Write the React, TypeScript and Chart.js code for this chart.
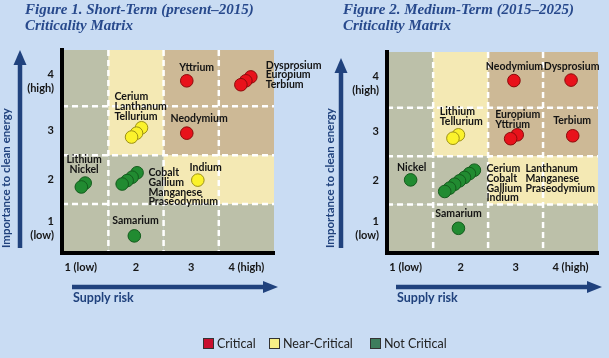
import React, { useEffect, useRef } from 'react';
import { Chart, registerables } from 'chart.js';

Chart.register(...registerables);

// ---------- data ----------
const xTickLabels = ['1 (low)', '2', '3', '4 (high)'];
const yTickLabels = [['1', '(low)'], ['2'], ['3'], ['4', '(high)']];
const tickValues = [1, 2, 3, 4];
const seriesNames = ['Critical', 'Near-Critical', 'Not Critical'];

const fig1Title = ['Figure 1. Short-Term (present\u20132015)', 'Criticality Matrix'];
const fig2Title = ['Figure 2. Medium-Term (2015\u20132025)', 'Criticality Matrix'];
const yAxisTitle = 'Importance to clean energy';
const xAxisTitle = 'Supply risk';

// zone of each cell: rows = importance 4 (top) .. 1 (bottom), cols = supply risk 1..4
// C = critical, Y = near-critical, N = not critical
const zonesShort = [
  ['N', 'Y', 'C', 'C'],
  ['N', 'Y', 'C', 'C'],
  ['N', 'N', 'Y', 'Y'],
  ['N', 'N', 'N', 'N'],
];
const zonesMedium = [
  ['N', 'Y', 'C', 'C'],
  ['N', 'Y', 'C', 'C'],
  ['N', 'N', 'Y', 'Y'],
  ['N', 'N', 'N', 'N'],
];

// Figure 1 (short term)
const shortCritical = [
  { x: 2.92, y: 4.02 }, // Yttrium
  { x: 4.08, y: 4.1 }, // Terbium
  { x: 3.99, y: 4.02 }, // Europium
  { x: 3.9, y: 3.94 }, // Dysprosium
  { x: 2.92, y: 2.95 }, // Neodymium
];
const shortNear = [
  { x: 2.1, y: 3.06 }, // Tellurium
  { x: 2.01, y: 2.95 }, // Lanthanum
  { x: 1.92, y: 2.87 }, // Cerium
  { x: 3.12, y: 1.99 }, // Indium
];
const shortNot = [
  { x: 1.08, y: 1.93 }, // Nickel
  { x: 1.01, y: 1.85 }, // Lithium
  { x: 2.02, y: 2.14 }, // Praseodymium
  { x: 1.93, y: 2.05 }, // Manganese
  { x: 1.84, y: 1.98 }, // Gallium
  { x: 1.75, y: 1.91 }, // Cobalt
  { x: 1.97, y: 0.85 }, // Samarium
];

// Figure 2 (medium term)
const mediumCritical = [
  { x: 2.97, y: 4.06 }, // Neodymium
  { x: 4.01, y: 4.07 }, // Dysprosium
  { x: 4.04, y: 2.92 }, // Terbium
  { x: 3.03, y: 2.94 }, // Yttrium
  { x: 2.91, y: 2.86 }, // Europium
];
const mediumNear = [
  { x: 1.96, y: 2.94 }, // Tellurium
  { x: 1.86, y: 2.87 }, // Lithium
];
const mediumNot = [
  { x: 1.09, y: 2.01 }, // Nickel
  { x: 2.25, y: 2.21 }, // Praseodymium
  { x: 2.16, y: 2.14 }, // Manganese
  { x: 2.07, y: 2.06 }, // Lanthanum
  { x: 1.98, y: 1.99 }, // Indium
  { x: 1.89, y: 1.92 }, // Gallium
  { x: 1.8, y: 1.84 }, // Cobalt
  { x: 1.71, y: 1.77 }, // Cerium
  { x: 1.96, y: 1.01 }, // Samarium
];

// element name annotations (anchored in data coordinates)
const shortNames = [
  { lines: ['Yttrium'], x: 3.1, y: 4.28, align: 'center' },
  { lines: ['Dysprosium', 'Europium', 'Terbium'], x: 4.35, y: 4.34, align: 'left' },
  { lines: ['Cerium', 'Lanthanum', 'Tellurium'], x: 1.61, y: 3.69, align: 'left' },
  { lines: ['Neodymium'], x: 2.625, y: 3.24, align: 'left' },
  { lines: ['Lithium', 'Nickel'], x: 1.06, y: 2.4, align: 'center' },
  { lines: ['Cobalt', 'Gallium', 'Manganese', 'Praseodymium'], x: 2.225, y: 2.14, align: 'left' },
  { lines: ['Indium'], x: 2.97, y: 2.24, align: 'left' },
  { lines: ['Samarium'], x: 1.57, y: 1.17, align: 'left' },
];
const mediumNames = [
  { lines: ['Neodymium'], x: 2.98, y: 4.34, align: 'center' },
  { lines: ['Dysprosium'], x: 4.02, y: 4.34, align: 'center' },
  { lines: ['Lithium', 'Tellurium'], x: 1.62, y: 3.41, align: 'left' },
  { lines: ['Europium', 'Yttrium'], x: 2.63, y: 3.35, align: 'left' },
  { lines: ['Terbium'], x: 4.03, y: 3.23, align: 'center' },
  { lines: ['Nickel'], x: 1.11, y: 2.26, align: 'center' },
  { lines: ['Cerium', 'Cobalt', 'Gallium', 'Indium'], x: 2.47, y: 2.24, align: 'left' },
  { lines: ['Lanthanum', 'Manganese', 'Praseodymium'], x: 3.18, y: 2.24, align: 'left' },
  { lines: ['Samarium'], x: 1.54, y: 1.31, align: 'left' },
];

// ---------- styles ----------
const BG = '#c9dcf3';
const ZONE_COLORS: Record<string, string> = { C: '#cdb996', Y: '#f4e9b4', N: '#bcc0a9' };
const DOT = [
  { fill: '#e8121b', border: '#8c0b0b' },
  { fill: '#fbf22c', border: '#9c9015' },
  { fill: '#218b31', border: '#145c1d' },
];
const LEGEND_COLORS = ['#c8102e', '#f6ef86', '#3d7d5d'];
const NAVY = '#20427d';
const TITLE_BLUE = '#27498c';
const X_MIN = 0.66;
const X_MAX = 4.5;
const Y_MIN = 0.5;
const Y_MAX = 4.65;
const BOUNDS = [1.5, 2.5, 3.5];

type Layout = {
  padding: { left: number; right: number; top: number; bottom: number };
  title: string[];
  titleX: number;
  yTitleX: number;
  yArrowX: number;
  yArrowTop: number;
  yArrowBottom: number;
  xArrowY: number;
  xArrowLeft: number;
  xArrowRight: number;
  xTitleX: number;
  xTitleY: number;
  legend: boolean;
};

function makeChart(
  canvas: HTMLCanvasElement,
  series: { x: number; y: number }[][],
  zones: string[][],
  names: { lines: string[]; x: number; y: number; align: string }[],
  L: Layout
) {
  const plugin = {
    id: 'matrixDecor',
    beforeDraw(chart: any) {
      const { ctx } = chart;
      const xs = chart.scales.x;
      const ys = chart.scales.y;
      const xb = [X_MIN, ...BOUNDS, X_MAX];
      const yb = [Y_MAX, ...BOUNDS.slice().reverse(), Y_MIN];
      ctx.save();
      for (let r = 0; r < 4; r++) {
        for (let c = 0; c < 4; c++) {
          const x0 = xs.getPixelForValue(xb[c]);
          const x1 = xs.getPixelForValue(xb[c + 1]);
          const y0 = ys.getPixelForValue(yb[r]);
          const y1 = ys.getPixelForValue(yb[r + 1]);
          ctx.fillStyle = ZONE_COLORS[zones[r][c]];
          ctx.fillRect(x0, y0, x1 - x0, y1 - y0);
        }
      }
      const ca = chart.chartArea;
      ctx.strokeStyle = '#ffffff';
      ctx.lineWidth = 2.5;
      ctx.setLineDash([6, 4]);
      BOUNDS.forEach((v) => {
        const px = xs.getPixelForValue(v);
        ctx.beginPath();
        ctx.moveTo(px, ca.top);
        ctx.lineTo(px, ca.bottom);
        ctx.stroke();
        const py = ys.getPixelForValue(v);
        ctx.beginPath();
        ctx.moveTo(ca.left, py);
        ctx.lineTo(ca.right, py);
        ctx.stroke();
      });
      ctx.restore();
    },
    afterDatasetsDraw(chart: any) {
      const { ctx } = chart;
      const xs = chart.scales.x;
      const ys = chart.scales.y;
      ctx.save();
      ctx.font = 'bold 10.5px Lato';
      ctx.fillStyle = '#141414';
      ctx.textBaseline = 'middle';
      names.forEach((n) => {
        ctx.textAlign = n.align as CanvasTextAlign;
        const px = xs.getPixelForValue(n.x);
        const py = ys.getPixelForValue(n.y);
        n.lines.forEach((line, i) => ctx.fillText(line, px, py + i * 9.7));
      });
      ctx.restore();
    },
    afterDraw(chart: any) {
      const { ctx } = chart;
      ctx.save();
      // figure title
      ctx.fillStyle = TITLE_BLUE;
      ctx.font = 'italic bold 15px "Liberation Serif"';
      ctx.textAlign = 'left';
      ctx.textBaseline = 'middle';
      L.title.forEach((t, i) => ctx.fillText(t, L.titleX, 10 + i * 16.5));

      // y arrow
      ctx.fillStyle = NAVY;
      ctx.strokeStyle = NAVY;
      ctx.lineWidth = 4.5;
      ctx.beginPath();
      ctx.moveTo(L.yArrowX, L.yArrowBottom);
      ctx.lineTo(L.yArrowX, L.yArrowTop + 12);
      ctx.stroke();
      ctx.beginPath();
      ctx.moveTo(L.yArrowX, L.yArrowTop);
      ctx.lineTo(L.yArrowX + 6.5, L.yArrowTop + 15);
      ctx.lineTo(L.yArrowX - 6.5, L.yArrowTop + 15);
      ctx.closePath();
      ctx.fill();
      // x arrow
      ctx.beginPath();
      ctx.moveTo(L.xArrowLeft, L.xArrowY);
      ctx.lineTo(L.xArrowRight - 12, L.xArrowY);
      ctx.stroke();
      ctx.beginPath();
      ctx.moveTo(L.xArrowRight, L.xArrowY);
      ctx.lineTo(L.xArrowRight - 15, L.xArrowY - 6);
      ctx.lineTo(L.xArrowRight - 15, L.xArrowY + 6);
      ctx.closePath();
      ctx.fill();

      // axis titles
      ctx.font = 'bold 11.5px Lato';
      ctx.save();
      ctx.translate(L.yTitleX, L.yArrowBottom);
      ctx.rotate(-Math.PI / 2);
      ctx.textAlign = 'left';
      ctx.fillText(yAxisTitle, 0, 0);
      ctx.restore();
      ctx.font = 'bold 12.5px Lato';
      ctx.textAlign = 'left';
      ctx.fillText(xAxisTitle, L.xTitleX, L.xTitleY);

      // legend
      if (L.legend) {
        const lx = [203, 269, 370];
        ctx.font = '12.5px Lato';
        ctx.textBaseline = 'middle';
        seriesNames.forEach((name, i) => {
          ctx.fillStyle = LEGEND_COLORS[i];
          ctx.fillRect(lx[i], 338, 11, 11);
          ctx.strokeStyle = '#333';
          ctx.lineWidth = 1;
          ctx.strokeRect(lx[i] + 0.5, 338.5, 10, 10);
          ctx.fillStyle = '#222';
          ctx.fillText(name, lx[i] + 14, 344);
        });
      }
      ctx.restore();
    },
  };

  const tickFont = { family: 'Lato', size: 11, weight: 'bold' as const, lineHeight: 1.25 };

  return new Chart(canvas, {
    type: 'scatter',
    data: {
      datasets: series.map((pts, i) => ({
        label: seriesNames[i],
        data: pts,
        backgroundColor: DOT[i].fill,
        borderColor: DOT[i].border,
        borderWidth: 1,
        pointRadius: 6.3,
        clip: false as any,
      })),
    },
    options: {
      animation: false,
      responsive: false,
      maintainAspectRatio: false,
      events: [],
      layout: { padding: L.padding },
      plugins: {
        legend: { display: false },
        tooltip: { enabled: false },
        title: { display: false },
      },
      scales: {
        x: {
          type: 'linear',
          min: X_MIN,
          max: X_MAX,
          afterFit: (s: any) => {
            s.height = 30;
          },
          afterBuildTicks: (s: any) => {
            s.ticks = tickValues.map((value) => ({ value }));
          },
          ticks: {
            padding: 8,
            color: '#161616',
            font: tickFont,
            maxRotation: 0,
            autoSkip: false,
            callback: (v: any) => xTickLabels[Math.round(Number(v)) - 1],
          },
          grid: { display: false, drawTicks: false },
          border: { display: true, color: '#000000', width: 4 },
        },
        y: {
          type: 'linear',
          min: Y_MIN,
          max: Y_MAX,
          afterFit: (s: any) => {
            s.width = 62;
          },
          afterBuildTicks: (s: any) => {
            s.ticks = tickValues.map((value) => ({ value }));
          },
          ticks: {
            padding: 8,
            color: '#161616',
            font: tickFont,
            autoSkip: false,
            callback: (v: any) => yTickLabels[Math.round(Number(v)) - 1],
          },
          grid: { display: false, drawTicks: false },
          border: { display: true, color: '#000000', width: 4 },
        },
      },
    },
    plugins: [plugin],
  } as any);
}

export default function App() {
  const leftRef = useRef<HTMLCanvasElement>(null);
  const rightRef = useRef<HTMLCanvasElement>(null);

  useEffect(() => {
    const c1 = makeChart(leftRef.current!, [shortCritical, shortNear, shortNot], zonesShort, shortNames, {
      padding: { left: 0, right: 335, top: 50, bottom: 75 },
      title: fig1Title,
      titleX: 25,
      yTitleX: 6,
      yArrowX: 20,
      yArrowTop: 50,
      yArrowBottom: 248,
      xArrowY: 287,
      xArrowLeft: 72,
      xArrowRight: 278,
      xTitleX: 73,
      xTitleY: 298,
      legend: true,
    });
    const c2 = makeChart(rightRef.current!, [mediumCritical, mediumNear, mediumNot], zonesMedium, mediumNames, {
      padding: { left: 325, right: 11, top: 52, bottom: 75 },
      title: fig2Title,
      titleX: 343,
      yTitleX: 330,
      yArrowX: 341,
      yArrowTop: 58,
      yArrowBottom: 248,
      xArrowY: 287,
      xArrowLeft: 396,
      xArrowRight: 602,
      xTitleX: 397,
      xTitleY: 298,
      legend: false,
    });
    return () => {
      c1.destroy();
      c2.destroy();
    };
  }, []);

  const canvasStyle: React.CSSProperties = { position: 'absolute', left: 0, top: 0, width: 609, height: 358 };
  return (
    <div style={{ position: 'fixed', left: 0, top: 0, width: 609, height: 358, background: BG, overflow: 'hidden' }}>
      <canvas ref={leftRef} width={609} height={358} style={canvasStyle} />
      <canvas ref={rightRef} width={609} height={358} style={canvasStyle} />
    </div>
  );
}
